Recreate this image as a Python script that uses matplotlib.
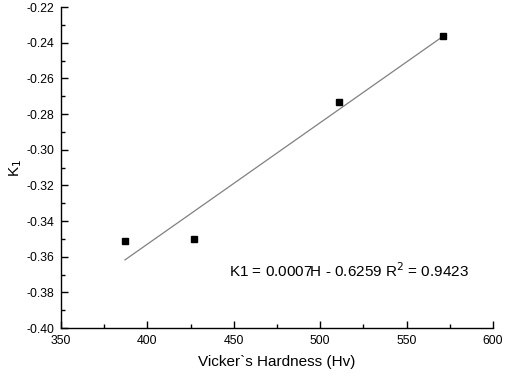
#!/usr/bin/env python3
import numpy as np
import matplotlib
matplotlib.use('Agg')
import matplotlib.pyplot as plt
from matplotlib.ticker import MultipleLocator, FormatStrFormatter

plt.rcParams['font.family'] = ['Liberation Sans', 'DejaVu Sans']

# Dati
hardness = [387, 427, 511, 571]
k1 = [-0.351, -0.350, -0.273, -0.236]
fit_label = 'K1 = 0.0007H - 0.6259 R$^2$ = 0.9423'

fig = plt.figure(figsize=(5.05, 3.75), dpi=100)
ax = fig.add_axes([0.121, 0.125, 0.855, 0.856])

# Retta di regressione
slope, intercept = np.polyfit(hardness, k1, 1)
xs = np.array([min(hardness), max(hardness)])
ax.plot(xs, slope * xs + intercept, color='#808080', lw=0.9)

ax.plot(hardness, k1, 's', color='black', ms=4.8)

ax.text(447, -0.3675, fit_label, fontsize=11, va='center', ha='left')

ax.set_xlim(350, 600)
ax.set_ylim(-0.40, -0.22)
ax.xaxis.set_major_locator(MultipleLocator(50))
ax.xaxis.set_minor_locator(MultipleLocator(25))
ax.yaxis.set_major_locator(MultipleLocator(0.02))
ax.yaxis.set_minor_locator(MultipleLocator(0.01))
ax.yaxis.set_major_formatter(FormatStrFormatter('%.2f'))

for side in ['top', 'right']:
    ax.spines[side].set_visible(False)
for side in ['left', 'bottom']:
    ax.spines[side].set_linewidth(1.0)

ax.tick_params(which='major', direction='in', length=5, width=1, labelsize=8.8, pad=5)
ax.tick_params(which='minor', direction='in', length=3, width=1)

ax.set_xlabel('Vicker`s Hardness (Hv)', fontsize=11, labelpad=6)
ax.set_ylabel('K$_1$', fontsize=11, labelpad=2)

fig.savefig('out.png', dpi=100)
